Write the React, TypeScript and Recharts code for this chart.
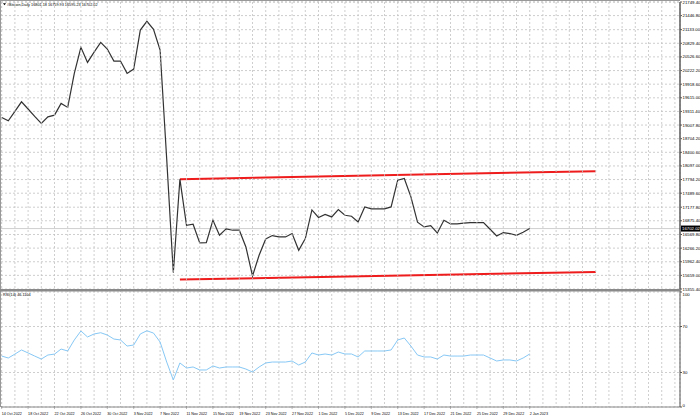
import React from 'react';
import { ComposedChart, LineChart, Line, XAxis, YAxis, CartesianGrid, ReferenceLine } from 'recharts';

const dateLabels = [
  '14 Oct 2022', '18 Oct 2022', '22 Oct 2022', '26 Oct 2022', '30 Oct 2022',
  '3 Nov 2022', '7 Nov 2022', '11 Nov 2022', '15 Nov 2022', '19 Nov 2022',
  '23 Nov 2022', '27 Nov 2022', '1 Dec 2022', '5 Dec 2022', '9 Dec 2022',
  '13 Dec 2022', '17 Dec 2022', '21 Dec 2022', '25 Dec 2022', '29 Dec 2022',
  '2 Jan 2023',
];

const prices = [
  19178, 19102, 19312, 19526, 19365, 19200, 19044, 19191, 19229, 19490,
  19401, 20159, 20739, 20404, 20634, 20850, 20701, 20433, 20433, 20159,
  20255, 21125, 21319, 21140, 20679, 18250, 15721, 17802, 16776, 16798,
  16381, 16390, 16888, 16553, 16694, 16665, 16665, 16292, 15645, 16107,
  16471, 16546, 16515, 16515, 16591, 16219, 16480, 17117, 16948, 17015,
  16961, 17126, 16999, 16977, 16850, 17184, 17140, 17140, 17140, 17184,
  17780, 17818, 17407, 16843, 16738, 16769, 16604, 16888, 16805, 16805,
  16821, 16836, 16836, 16836, 16687, 16537, 16613, 16591, 16553, 16620,
  16702.02,
];

const rsiValues = [
  44.3, 42.6, 46.0, 49.6, 47.0, 44.3, 41.7, 45.2, 46.0, 50.4,
  48.7, 58.3, 66.1, 60.9, 63.5, 64.6, 62.6, 59.1, 58.3, 53.0,
  53.9, 63.5, 66.3, 64.3, 56.5, 39.1, 23.5, 38.3, 33.9, 34.8,
  32.2, 32.2, 35.7, 33.9, 34.8, 34.8, 34.8, 33.0, 30.4, 34.8,
  38.3, 39.1, 39.1, 39.1, 40.0, 36.5, 39.1, 47.0, 45.2, 46.1,
  45.2, 47.8, 46.1, 46.1, 43.5, 48.7, 48.7, 48.7, 48.7, 49.6,
  58.3, 60.0, 53.0, 45.2, 43.5, 43.5, 41.7, 45.2, 44.3, 44.3,
  44.3, 45.2, 45.2, 45.2, 42.6, 40.0, 40.9, 40.9, 40.0, 42.6,
  46.11,
];

const priceTicks = [
  21749.4, 21446.8, 21133.0, 20829.4, 20526.6, 20222.2, 19918.6, 19615.0,
  19311.4, 19007.8, 18704.2, 18400.6, 18097.0, 17794.2, 17489.6, 17177.8,
  16875.4, 16569.8, 16266.2, 15962.4, 15659.0, 15355.4,
];
const rsiTicks = [0, 30, 70, 100];

const upperChannel = [{ i: 27, v: 17802 }, { i: 90, v: 17981 }];
const lowerChannel = [{ i: 27, v: 15565 }, { i: 90, v: 15735 }];

const lastPrice = 16702.02;
const titleText = '#Bitcoin,Daily  16801.18 16759.93 16595.23 16702.02';
const rsiTitle = 'RSI(14) 46.1104';

const gridTicks = Array.from({ length: 52 }, (_, k) => k * 2);

const data = prices.map((p, i) => ({ i, price: p, rsi: rsiValues[i] }));

const X_DOMAIN: [number, number] = [-0.106, 102.77];
// RSI pane occupies the lower part of a full-height chart: 0..100 maps to its bottom 115px
const RSI_DOMAIN: [number, number] = [0, 352.2];
const FONT = '"Liberation Sans", Arial, sans-serif';
const GRID = '#c2c2c2';
const DASH = '2 2';

const PriceTag = (props: any) => {
  const vb = props.viewBox || {};
  const x = (vb.x || 0) + (vb.width || 0) + 1;
  const y = vb.y || 0;
  return (
    <g>
      <rect x={x} y={y - 3} width={20} height={6} fill="#000" />
      <text x={x + 1} y={y + 1.6} fontSize={4.3} fill="#fff" fontFamily={FONT}>
        {lastPrice.toFixed(2)}
      </text>
    </g>
  );
};

const PriceTick = (props: any) => {
  const { x, y, payload } = props;
  return (
    <text x={x} y={y + 1.5} fontSize={4.3} fill="#000" fontFamily={FONT} textAnchor="start">
      {Number(payload.value).toFixed(2)}
    </text>
  );
};

const RsiTick = (props: any) => {
  const { x, y, payload } = props;
  const v = payload.value;
  const dy = v === 100 ? 3.5 : v === 0 ? -0.5 : 1.5;
  return (
    <text x={x} y={y + dy} fontSize={4.3} fill="#000" fontFamily={FONT} textAnchor="start">
      {v}
    </text>
  );
};

const DateTick = (props: any) => {
  const { x, y, payload } = props;
  const i = payload.value;
  if (i % 4 !== 0 || i > 80) return <g />;
  return (
    <g>
      <line x1={x} x2={x} y1={y - 1} y2={y + 2} stroke="#888" strokeWidth={0.6} />
      <text x={x} y={y + 8} fontSize={3.7} fill="#000" fontFamily={FONT} textAnchor="start">
        {dateLabels[i / 4]}
      </text>
    </g>
  );
};

export default function App() {
  return (
    <div style={{ position: 'absolute', left: 0, top: 0, width: 700, height: 419, background: '#fff', overflow: 'hidden' }}>
      <div style={{ position: 'absolute', left: 0, top: 0 }}>
        <ComposedChart width={700} height={294} data={data} margin={{ top: 2, right: 0, left: 1, bottom: 0 }}>
          <CartesianGrid stroke={GRID} strokeDasharray={DASH} strokeWidth={0.8} vertical={false} />
          <XAxis
            dataKey="i"
            type="number"
            domain={X_DOMAIN}
            ticks={gridTicks}
            allowDataOverflow
            interval={0}
            height={5}
            tick={false}
            tickLine={false}
            axisLine={false}
          />
          <YAxis
            orientation="right"
            width={20}
            type="number"
            domain={[15355.4, 21749.4]}
            ticks={priceTicks}
            interval={0}
            tickSize={2}
            tickMargin={0.5}
            stroke="#555"
            tick={<PriceTick />}
          />
          <ReferenceLine y={lastPrice} stroke="#c4c4c4" strokeWidth={0.8} label={<PriceTag />} />
          <ReferenceLine
            segment={[{ x: upperChannel[0].i, y: upperChannel[0].v }, { x: upperChannel[1].i, y: upperChannel[1].v }]}
            stroke="#ee1c1c"
            strokeWidth={2}
            ifOverflow="visible"
          />
          <ReferenceLine
            segment={[{ x: lowerChannel[0].i, y: lowerChannel[0].v }, { x: lowerChannel[1].i, y: lowerChannel[1].v }]}
            stroke="#ee1c1c"
            strokeWidth={2}
            ifOverflow="visible"
          />
          <Line dataKey="price" type="linear" stroke="#333" strokeWidth={1.2} dot={false} isAnimationActive={false} />
        </ComposedChart>
      </div>
      <div style={{ position: 'absolute', left: 0, top: 0 }}>
        <LineChart width={700} height={419} data={data} margin={{ top: 2, right: 0, left: 1, bottom: 0 }}>
          <CartesianGrid stroke={GRID} strokeDasharray={DASH} strokeWidth={0.8} />
          <XAxis
            dataKey="i"
            type="number"
            domain={X_DOMAIN}
            ticks={gridTicks}
            allowDataOverflow
            interval={0}
            height={12}
            tickLine={false}
            tickSize={0}
            tickMargin={0}
            stroke="#888"
            tick={<DateTick />}
          />
          <YAxis
            orientation="right"
            width={20}
            type="number"
            domain={RSI_DOMAIN}
            allowDataOverflow
            ticks={rsiTicks}
            interval={0}
            tickSize={2}
            tickMargin={0.5}
            stroke="#555"
            tick={<RsiTick />}
          />
          <Line dataKey="rsi" type="linear" stroke="#87c8f5" strokeWidth={1} dot={false} isAnimationActive={false} />
        </LineChart>
      </div>
      <svg width={700} height={419} style={{ position: 'absolute', left: 0, top: 0, pointerEvents: 'none' }}>
        <line x1={0} x2={680} y1={0.5} y2={0.5} stroke="#999" strokeWidth={1} />
        <line x1={0.5} x2={0.5} y1={0} y2={407} stroke="#999" strokeWidth={1} />
        <rect x={0} y={289} width={680} height={2.5} fill="#8a8a8a" />
        <path d="M3 3.2 L6 3.2 L4.5 5.2 Z" fill="#000" />
        <text x={7} y={5.5} fontSize={3.8} fill="#000" fontFamily={FONT}>{titleText}</text>
        <text x={3} y={295.5} fontSize={3.8} fill="#000" fontFamily={FONT}>{rsiTitle}</text>
      </svg>
    </div>
  );
}
